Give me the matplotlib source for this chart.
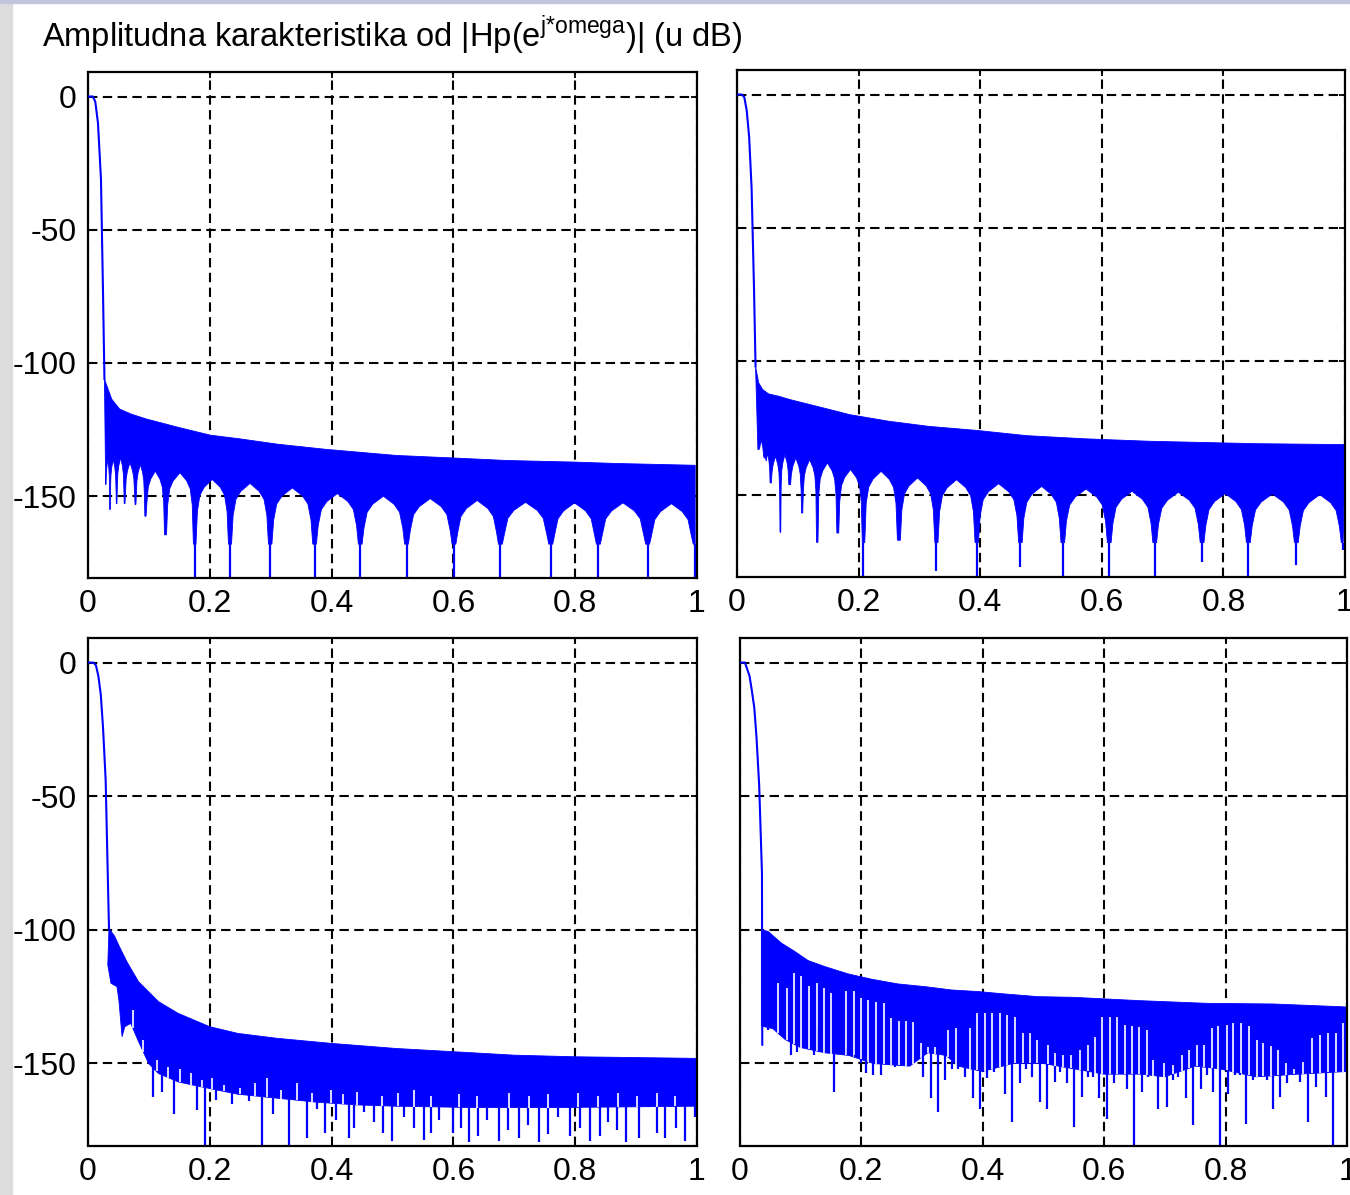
import numpy as np
import matplotlib
matplotlib.use('Agg')
import matplotlib.pyplot as plt
from matplotlib.patches import Rectangle

plt.rcParams['font.family'] = ['Liberation Sans', 'DejaVu Sans']
plt.rcParams['mathtext.fontset'] = 'custom'
plt.rcParams['mathtext.rm'] = 'Liberation Sans'
plt.rcParams['axes.unicode_minus'] = False

# ---- values (normalized frequency, dB) ----

# panel 1 (top left)
p1_pass_x = [0, 0.008, 0.012, 0.0164, 0.0213, 0.0246, 0.027]
p1_pass_y = [0, 0, -2, -10, -31, -73, -106]
p1_top_x = [0.027, 0.029, 0.039, 0.052, 0.071, 0.097, 0.149, 0.201, 0.247, 0.312,
            0.39, 0.506, 0.604, 0.688, 0.799, 0.864, 0.997]
p1_top_y = [-106, -107.3, -113.6, -117.3, -119.2, -121.1, -124.2, -127.1, -128.4, -130.5,
            -132.4, -134.7, -135.7, -136.6, -137.2, -137.7, -138.4]
p1_null_x = [0.029, 0.036, 0.047, 0.060, 0.078, 0.094, 0.127, 0.175, 0.233, 0.299,
             0.372, 0.447, 0.523, 0.601, 0.677, 0.760, 0.838, 0.919, 0.997]
p1_null_y = [-145.6, -155, -152.8, -152.8, -153.1, -157.5, -164.5, -181, -181, -181,
             -181, -181, -181, -181, -181, -181, -181, -181, -181]
p1_peak_y = [-136.2, -136.2, -135.6, -137.4, -138.1, -140.6, -141.2, -143.7, -145.2,
             -146.9, -149.0, -150.0, -150.9, -151.6, -152.3, -152.5, -152.5, -152.8]

# panel 2 (top right)
p2_pass_x = [0, 0.008, 0.012, 0.016, 0.020, 0.024, 0.028, 0.0305]
p2_pass_y = [0, 0, -1, -6, -16, -35, -73, -101.9]
p2_top_x = [0.0305, 0.0357, 0.0422, 0.052, 0.0682, 0.0877, 0.120, 0.1526, 0.185, 0.25,
            0.315, 0.393, 0.477, 0.575, 0.679, 0.854, 1.0]
p2_top_y = [-101.9, -108.1, -110.6, -112.25, -113.1, -114.4, -116.25, -118.1, -120, -122.5,
            -124.4, -125.9, -127.9, -129.1, -130, -130.9, -131.25]
p2_null_x = [0.0344, 0.0455, 0.0552, 0.0714, 0.0864, 0.1071, 0.1318, 0.1656, 0.2078, 0.2662,
             0.3279, 0.3942, 0.4662, 0.5357, 0.6123, 0.687, 0.765, 0.841, 0.920, 0.997]
p2_null_y = [-133.1, -136.25, -145.6, -164.1, -146.25, -156.9, -167.9, -164.4, -181, -167.1,
             -178.75, -181, -177.1, -181, -181, -181, -175.1, -181, -176.25, -170.6]
p2_peak_y = [-129.4, -134.4, -135.6, -135, -136.25, -136.9, -138.1, -140.6, -141.25, -143.75,
             -144.4, -145.9, -146.9, -147.9, -148.75, -149.1, -149.6, -149.75, -150]

# panel 3 (bottom left)
p3_pass_x = [0, 0.009, 0.013, 0.017, 0.021, 0.0246, 0.029, 0.0335, 0.0345]
p3_pass_y = [0, 0, -1, -5, -12, -24, -44, -90, -99.4]
p3_top_x = [0.0345, 0.044, 0.051, 0.064, 0.083, 0.116, 0.148, 0.2, 0.246, 0.311,
            0.4, 0.506, 0.6, 0.7, 0.8, 1.0]
p3_top_y = [-99.4, -102.5, -106, -112, -119.4, -126.9, -131.25, -136.25, -138.75, -140.6,
            -142.5, -144.4, -145.6, -146.9, -147.5, -148.1]
p3_floor_x = [0.0325, 0.0377, 0.0475, 0.0507, 0.0559, 0.0605, 0.0702, 0.0832, 0.0995, 0.1157,
              0.1482, 0.1808, 0.2458, 0.3108, 0.3758, 0.4408, 0.5059, 0.6359, 0.7659, 1.0]
p3_floor_y = [-113.1, -120, -121.25, -126.25, -140, -136.25, -135, -141.9, -150, -153.75,
              -156.9, -158.5, -161.5, -163, -164.5, -165.5, -166, -166.5, -166.5, -166]
p3_slit_x = [0.0735, 0.091, 0.1125, 0.132, 0.1515, 0.169, 0.187, 0.2035, 0.223, 0.249,
             0.275, 0.2945, 0.317, 0.343, 0.368, 0.3985, 0.418, 0.441, 0.483, 0.509,
             0.535, 0.564, 0.610, 0.639, 0.691, 0.724, 0.756, 0.805, 0.837, 0.870,
             0.902, 0.935, 0.964]
p3_slit_y = [-130, -141.25, -148.75, -151.25, -151.9, -153.75, -156.25, -155.6, -158, -159,
             -157.5, -155.6, -160, -157.25, -161, -160, -161.5, -160.5, -162, -161,
             -160, -162, -161.5, -162, -161, -162, -161.5, -161, -162, -161,
             -162, -161, -162]
p3_spike_x = [0.106, 0.122, 0.142, 0.158, 0.179, 0.192, 0.211, 0.236, 0.265, 0.286,
              0.304, 0.330, 0.360, 0.376, 0.389, 0.408, 0.428, 0.437, 0.454, 0.470,
              0.485, 0.499, 0.519, 0.535, 0.551, 0.563, 0.577, 0.600, 0.613, 0.626,
              0.641, 0.655, 0.675, 0.690, 0.707, 0.722, 0.740, 0.756, 0.772, 0.792,
              0.808, 0.824, 0.840, 0.854, 0.868, 0.883, 0.905, 0.922, 0.935, 0.948,
              0.965, 0.980, 0.997]
p3_spike_y = [-162.5, -160.6, -168.75, -156.9, -167.5, -181, -163.75, -165, -164, -181,
              -169, -181, -178, -167, -176, -171, -178, -174, -168, -172,
              -176, -179, -170, -174, -178.5, -176, -171, -176, -174, -179.5,
              -177, -171, -179, -175, -178, -173, -179.5, -176.5, -170, -177,
              -174, -179, -177, -172, -175, -179.5, -178, -166, -176, -178,
              -174, -179, -170]

# panel 4 (bottom right)
p4_pass_x = [0, 0.009, 0.0165, 0.020, 0.0244, 0.028, 0.0324, 0.037, 0.0375]
p4_pass_y = [0, 0, -5, -10, -17, -28, -46, -79, -143]
p4_top_x = [0.036, 0.0472, 0.0692, 0.0911, 0.113, 0.1405, 0.179, 0.218, 0.2611, 0.305,
            0.349, 0.393, 0.437, 0.491, 0.549, 0.659, 0.769, 0.879, 0.988, 1.0]
p4_top_y = [-100, -100.6, -105, -108.1, -111.5, -113.75, -116.5, -118.5, -120.25, -121.25,
            -122.5, -123.1, -124, -125, -125.25, -126.5, -127.5, -127.75, -128.75, -128.9]
p4_floor_x = [0.036, 0.055, 0.075, 0.10, 0.14, 0.18, 0.22, 0.28, 0.31, 0.34,
              0.36, 0.40, 0.45, 0.50, 0.55, 0.60, 0.66, 0.70, 0.75, 0.79,
              0.85, 0.92, 1.0]
p4_floor_y = [-136, -137, -141, -144, -146, -147, -150, -151, -146, -147,
              -151, -153, -150, -150, -152, -154, -154, -155, -151, -152,
              -155, -154, -153]
p4_slit_x = [0.0626, 0.0774, 0.090, 0.102, 0.114, 0.1268, 0.1394, 0.1514, 0.176, 0.1887,
             0.2008, 0.2118, 0.2255, 0.2375, 0.2502, 0.2623, 0.2748, 0.2858, 0.2985, 0.3105,
             0.3215, 0.3434, 0.3571, 0.3791, 0.3917, 0.4038, 0.4164, 0.4295, 0.4411, 0.4542,
             0.4668, 0.4778, 0.4904, 0.508, 0.520, 0.533, 0.546, 0.560, 0.573, 0.585,
             0.5963, 0.6100, 0.6221, 0.6347, 0.6457, 0.6583, 0.6703, 0.6813, 0.6989, 0.7131,
             0.7279, 0.7400, 0.7526, 0.7647, 0.7773, 0.7883, 0.8020, 0.8130, 0.8261, 0.8393,
             0.8514, 0.8624, 0.8756, 0.8871, 0.900, 0.913, 0.928, 0.9419, 0.9556, 0.9694,
             0.9820, 0.9940]
p4_slit_y = [-120, -121.9, -116.25, -117.25, -121, -120, -121.9, -123.75, -122.75, -122.75,
             -125.6, -126.25, -126.9, -127.25, -133.1, -134, -134, -134.4, -142.5, -143.75,
             -143.75, -137.5, -136.9, -136.9, -131.25, -131.25, -131.25, -131.25, -131.9, -132.5,
             -138.75, -138.75, -141.25, -143, -146, -147, -147, -145, -143, -140,
             -132.75, -132.75, -132.75, -135.6, -136, -136.5, -137.5, -148.75, -150, -150.6,
             -146.9, -145, -143.1, -143.1, -136.9, -136, -135.6, -134.75, -135, -136,
             -141.25, -142.5, -143.5, -145, -150, -151.9, -149.4, -140.6, -139.4, -138.75,
             -138.75, -135]
p4_spike_x = [0.0418, 0.0472, 0.0692, 0.0845, 0.0939, 0.1065, 0.1229, 0.1311, 0.1416, 0.1558,
              0.1668, 0.1789, 0.1898, 0.1997, 0.2090, 0.2200, 0.2326, 0.2458, 0.2557, 0.2666,
              0.2803, 0.2913, 0.3023, 0.3149, 0.3270, 0.3390, 0.3500, 0.3599, 0.3709, 0.3846,
              0.3955, 0.4081, 0.4191, 0.4367, 0.4488, 0.4614, 0.4723, 0.4816, 0.4943, 0.5069,
              0.5195, 0.5277, 0.5387, 0.5508, 0.5634, 0.5744, 0.5815, 0.5925, 0.6045, 0.6166,
              0.6265, 0.6374, 0.6501, 0.6621, 0.6731, 0.6895, 0.7033, 0.7142, 0.7225, 0.7351,
              0.7471, 0.7598, 0.7691, 0.7801, 0.7910, 0.8047, 0.8157, 0.8239, 0.8338, 0.8459,
              0.8569, 0.8678, 0.8788, 0.8898, 0.9008, 0.9227, 0.9365, 0.9491, 0.9656, 0.9776,
              0.9897]
p4_spike_y = [-128.1, -137.5, -135.6, -146.9, -145.6, -135.6, -146.9, -136.25, -145, -160.6,
              -146.9, -143.75, -146.9, -150, -153.75, -154.4, -154.4, -148.75, -151.25, -150.6,
              -148.75, -148.75, -155, -163.1, -168.1, -156.25, -151.9, -151.9, -155, -163.1,
              -166.9, -155.6, -153.1, -161.25, -171.9, -157.5, -151.9, -155, -164.4, -166.9,
              -156.9, -153.1, -157.5, -173.75, -162.5, -155, -155, -163.1, -170.6, -157.5,
              -153.75, -159.4, -181, -160.6, -155, -166.9, -166.25, -156.25, -155, -163.1,
              -173.1, -159.4, -154.4, -160.6, -181, -161.25, -154.4, -154.4, -172.5, -156.25,
              -153.75, -156.25, -166.9, -162.5, -157.5, -156.9, -171.9, -158.75, -162.5, -181,
              -153.1]

x_ticks = [0, 0.2, 0.4, 0.6, 0.8, 1]
x_labels = ['0', '0.2', '0.4', '0.6', '0.8', '1']
y_ticks = [-150, -100, -50, 0]
y_labels = ['-150', '-100', '-50', '0']
title_text = r'Amplitudna karakteristika od |Hp(e$^{\mathrm{j{*}omega}}$)| (u dB)'

BLUE = '#0000ff'


def arch_floor(null_x, null_y, peak_y, foot=-168):
    # lower edge of the dense band: arches between the nulls
    fx, fy = [], []
    for i in range(len(peak_y)):
        a, b = null_x[i], null_x[i + 1]
        w = b - a
        fa = max(null_y[i], foot)
        fb = max(null_y[i + 1], foot)
        p = peak_y[i]
        fx += [a, a + 0.04 * w, a + 0.08 * w, a + 0.15 * w, a + 0.27 * w, a + 0.5 * w,
               b - 0.27 * w, b - 0.15 * w, b - 0.08 * w, b - 0.04 * w]
        fy += [fa, fa, max(p - 12, fa), max(p - 6, fa), p - 3, p,
               p - 3, max(p - 6, fb), max(p - 12, fb), fb]
    fx.append(null_x[-1])
    fy.append(max(null_y[-1], foot))
    return np.array(fx), np.array(fy)


def draw_band(ax, top_x, top_y, floor_x, floor_y):
    px = np.concatenate([top_x, np.asarray(floor_x)[::-1]])
    py = np.concatenate([top_y, np.asarray(floor_y)[::-1]])
    ax.fill(px, py, color=BLUE, lw=0.6, zorder=2)


def draw_lines(ax, xs, ys, floor_x, floor_y, color, z, lw=1.6):
    xs = np.asarray(xs)
    start = np.interp(xs, floor_x, floor_y)
    ax.vlines(xs, start, ys, color=color, lw=lw, zorder=z)


def style(ax, ylabels=True):
    ax.set_xlim(0, 1)
    ax.set_ylim(-180.7, 9.2)
    ax.set_xticks(x_ticks)
    ax.set_xticklabels(x_labels)
    ax.set_yticks(y_ticks)
    if ylabels:
        ax.set_yticklabels(y_labels)
    else:
        ax.set_yticklabels([])
    ax.set_axisbelow(True)
    ax.grid(True, color='black', linestyle=(0, (4.5, 2.6)), linewidth=1.5)
    ax.tick_params(direction='in', top=True, right=True, length=4.5, width=1.3,
                   labelsize=23, pad=8, colors='black')
    for s in ax.spines.values():
        s.set_linewidth(1.6)
        s.set_color('black')


fig = plt.figure(figsize=(13.5, 11.95), dpi=100)
fig.patches.append(Rectangle((0, 0), 12 / 1350, 1, transform=fig.transFigure,
                             color='#dcdcdc', zorder=0))
fig.patches.append(Rectangle((0, 1 - 3 / 1195), 1, 3 / 1195, transform=fig.transFigure,
                             color='#c4c4dc', zorder=0))

ax1 = fig.add_axes([88 / 1350, 1 - 578 / 1195, 609 / 1350, 506 / 1195])
ax2 = fig.add_axes([737 / 1350, 1 - 576.5 / 1195, 608 / 1350, 506.5 / 1195])
ax3 = fig.add_axes([88 / 1350, 1 - 1145.5 / 1195, 609 / 1350, 507.5 / 1195])
ax4 = fig.add_axes([739.5 / 1350, 1 - 1145.5 / 1195, 607.5 / 1350, 507.5 / 1195])

# panels 1 and 2: band with arch-shaped lower edge and nulls
for ax, show, pxs, pys, tx, ty, nx, ny, pk in [
        (ax1, True, p1_pass_x, p1_pass_y, p1_top_x, p1_top_y, p1_null_x, p1_null_y, p1_peak_y),
        (ax2, False, p2_pass_x, p2_pass_y, p2_top_x, p2_top_y, p2_null_x, p2_null_y, p2_peak_y)]:
    style(ax, show)
    ax.plot(pxs, pys, color=BLUE, lw=1.5, zorder=3)
    fx, fy = arch_floor(nx, ny, pk)
    draw_band(ax, tx, ty, fx, fy)
    draw_lines(ax, nx, ny, fx, fy, BLUE, 2.2)

# panels 3 and 4: band with comb-like lower edge
for ax, show, pxs, pys, tx, ty, fx, fy, slx, sly, spx, spy in [
        (ax3, True, p3_pass_x, p3_pass_y, p3_top_x, p3_top_y, p3_floor_x, p3_floor_y,
         p3_slit_x, p3_slit_y, p3_spike_x, p3_spike_y),
        (ax4, False, p4_pass_x, p4_pass_y, p4_top_x, p4_top_y, p4_floor_x, p4_floor_y,
         p4_slit_x, p4_slit_y, p4_spike_x, p4_spike_y)]:
    style(ax, show)
    ax.plot(pxs, pys, color=BLUE, lw=1.5, zorder=3)
    draw_band(ax, tx, ty, fx, fy)
    draw_lines(ax, slx, sly, fx, fy, 'white', 2.1, lw=1.2)
    draw_lines(ax, spx, spy, fx, fy, BLUE, 2.2)

ax1.set_title(title_text, fontsize=23.5, pad=18)

fig.savefig('out.png', dpi=100, facecolor='white')
